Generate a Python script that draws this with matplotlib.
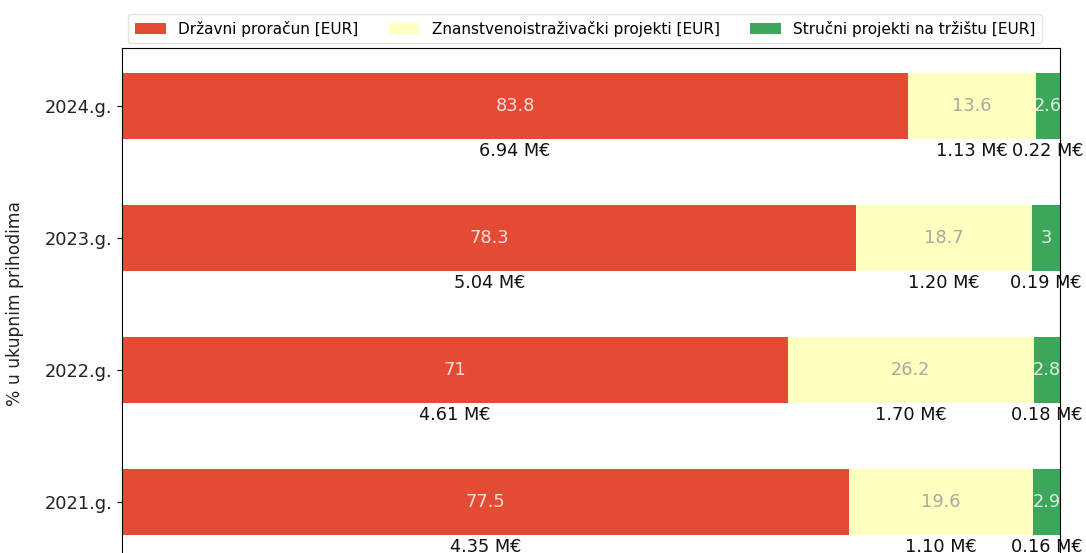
import matplotlib
matplotlib.use("Agg")
import matplotlib.pyplot as plt
import numpy as np

years = ["2021.g.", "2022.g.", "2023.g.", "2024.g."]
series_names = ["Državni proračun [EUR]", "Znanstvenoistraživački projekti [EUR]",
                "Stručni projekti na tržištu [EUR]"]
drzavni_pct = [77.5, 71, 78.3, 83.8]
znanst_pct = [19.6, 26.2, 18.7, 13.6]
strucni_pct = [2.9, 2.8, 3, 2.6]
drzavni_meur = [4.35, 4.61, 5.04, 6.94]
znanst_meur = [1.10, 1.70, 1.20, 1.13]
strucni_meur = [0.16, 0.18, 0.19, 0.22]

colors = ["#e54b34", "#ffffc0", "#3ca75a"]
inner_text_colors = [(1, 1, 1, 0.82), "#a9a9a0", (1, 1, 1, 0.82)]

fig = plt.figure(figsize=(10.86, 5.53), dpi=100)
ax = fig.add_axes([122 / 1086, -7 / 553, 938 / 1086, 512 / 553])

y = np.arange(len(years))
pcts = [drzavni_pct, znanst_pct, strucni_pct]
meurs = [drzavni_meur, znanst_meur, strucni_meur]
left = np.zeros(len(years))
h = 0.5
for k in range(3):
    vals = np.array(pcts[k], dtype=float)
    ax.barh(y, vals, left=left, height=h, color=colors[k], label=series_names[k], zorder=2)
    for i in range(len(years)):
        cx = left[i] + vals[i] / 2
        ax.text(cx, y[i], f"{vals[i]:g}", ha="center", va="center", fontsize=12.8,
                color=inner_text_colors[k], zorder=3)
        ax.text(cx, y[i] - h / 2 - 0.02, f"{meurs[k][i]:.2f} M€", ha="center", va="top",
                fontsize=12.8, color="#111111", zorder=1, clip_on=False)
    left = left + vals

ax.set_xlim(0, 100)
ax.set_ylim(-0.44, 3.44)
ax.set_yticks(y)
ax.set_yticklabels(years, fontsize=12.8, color="#222222")
ax.set_ylabel("% u ukupnim prihodima", fontsize=12.3, color="#222222")
ax.yaxis.set_label_coords(-0.104, 0.5)
for s in ax.spines.values():
    s.set_zorder(4)

leg = ax.legend(loc="lower center", bbox_to_anchor=(0.494, 1.0), ncol=3,
                fontsize=11, frameon=True, edgecolor="#dddddd",
                borderpad=0.45, borderaxespad=0.3)

fig.savefig("out.png", dpi=100)
